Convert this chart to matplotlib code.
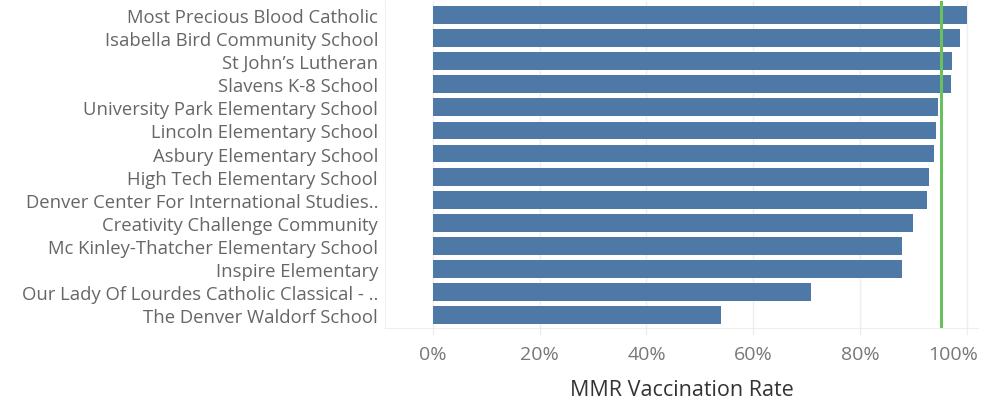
import numpy as np
import matplotlib
matplotlib.use('Agg')
import matplotlib.pyplot as plt
import matplotlib.transforms as mtransforms
from matplotlib.ticker import FuncFormatter

# School names and MMR vaccination rates (%), top to bottom
schools = ['Most Precious Blood Catholic',
           'Isabella Bird Community School',
           'St John\u2019s Lutheran',
           'Slavens K-8 School',
           'University Park Elementary School',
           'Lincoln Elementary School',
           'Asbury Elementary School',
           'High Tech Elementary School',
           'Denver Center For International Studies..',
           'Creativity Challenge Community',
           'Mc Kinley-Thatcher Elementary School',
           'Inspire Elementary',
           'Our Lady Of Lourdes Catholic Classical - ..',
           'The Denver Waldorf School']
rates = [100.0, 98.7, 97.2, 97.0, 94.6, 94.2, 93.8, 92.9, 92.5, 89.9, 87.7, 87.7, 70.8, 54.0]
target = 95.0
xticks = [0, 20, 40, 60, 80, 100]

plt.rcParams['font.family'] = ['Open Sans', 'DejaVu Sans']

fig = plt.figure(figsize=(9.94, 4.02), dpi=100)
ax = fig.add_axes([385/994, 73/402, 593/994, 327/402])

y = np.arange(len(schools))
ax.barh(y, rates, height=0.77, color='#4e79a7', zorder=2)
ax.axvline(target, color='#6abf5e', lw=2.2, zorder=3)

ax.set_xlim(-8.9, 102)
ax.set_ylim(13.55, -0.6)

ax.set_yticks(y)
ax.set_yticklabels(schools, fontsize=13.3, color='#666666')
ax.tick_params(axis='y', length=0, pad=5)

ax.set_xticks(xticks)
ax.xaxis.set_major_formatter(FuncFormatter(lambda v, p: '%d%%' % v))
ax.tick_params(axis='x', length=5, color='#ececec', labelsize=14, labelcolor='#777777', pad=7)
ax.grid(axis='x', color='#efefef', lw=1, zorder=0)

# last tick label is pulled in, like the original
lbl = ax.get_xticklabels()[-1]
lbl.set_transform(lbl.get_transform() + mtransforms.ScaledTranslation(-14/100, 0, fig.dpi_scale_trans))

ax.set_xlabel('MMR Vaccination Rate', fontsize=15.5, color='#333333', labelpad=12)

for s in ['top', 'right']:
    ax.spines[s].set_visible(False)
ax.spines['left'].set_color('#f0f0f0')
ax.spines['bottom'].set_color('#eeeeee')

fig.savefig('out.png', dpi=100)
